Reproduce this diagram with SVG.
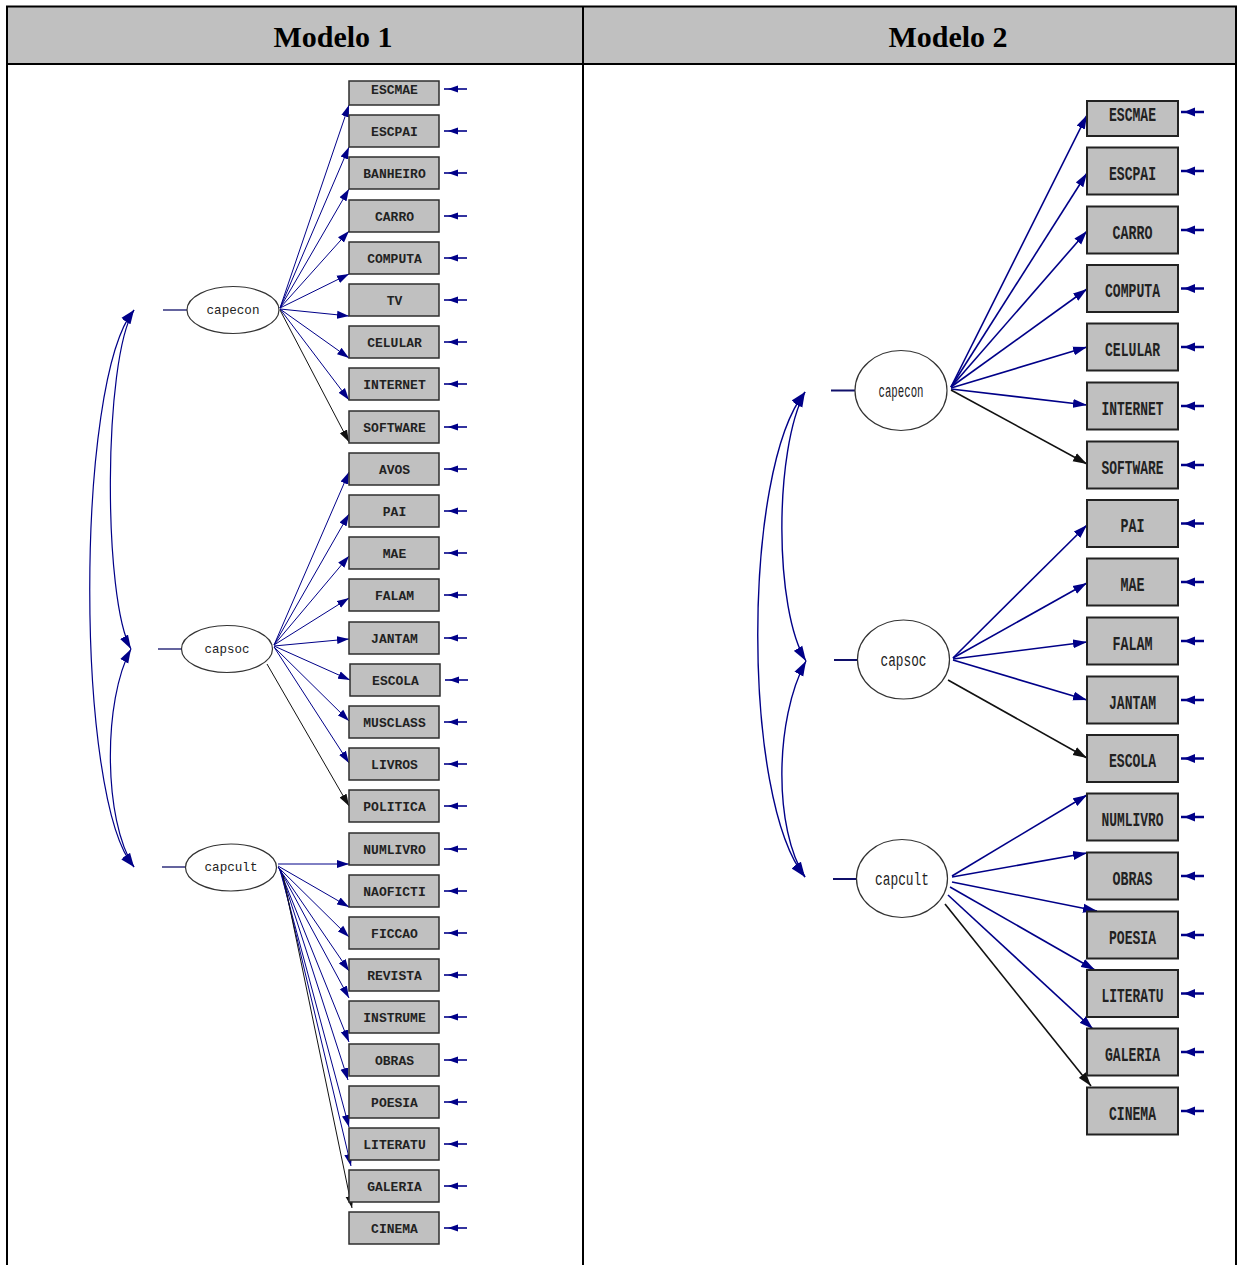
<svg xmlns="http://www.w3.org/2000/svg" xmlns:xlink="http://www.w3.org/1999/xlink" width="1238" height="1265" viewBox="0 0 1238 1265">
<style>
.hdr{font-family:"Liberation Serif","Times New Roman",serif;font-weight:bold;font-size:30px;fill:#000;text-anchor:middle}
.box1{fill:#c0c0c0;stroke:#2e2e2e;stroke-width:1.5}
.box2{fill:#c0c0c0;stroke:#222;stroke-width:2}
.t1{font-family:"Liberation Mono","Courier New",monospace;font-weight:bold;font-size:13px;fill:#222;text-anchor:middle}
.t2{font-family:"Liberation Mono","Courier New",monospace;font-weight:bold;font-size:20px;fill:#222;text-anchor:middle}
.lv{fill:#fff;stroke:#333;stroke-width:1.2}
.lt1{font-family:"Liberation Mono","Courier New",monospace;font-size:13px;fill:#222;text-anchor:middle}
.lt2{font-family:"Liberation Mono","Courier New",monospace;font-size:19px;fill:#222;text-anchor:middle}
.stub{stroke:#10106a;fill:none}
.b1{stroke:#000088;stroke-width:1;fill:none;marker-end:url(#a1b)}
.k1{stroke:#111;stroke-width:1;fill:none;marker-end:url(#a1k)}
.b2{stroke:#000088;stroke-width:1.6;fill:none;marker-end:url(#a2b)}
.k2{stroke:#111;stroke-width:1.6;fill:none;marker-end:url(#a2k)}
.cv1{stroke:#000088;stroke-width:1.2;fill:none;marker-start:url(#c1);marker-end:url(#c1)}
.cv2{stroke:#000088;stroke-width:1.4;fill:none;marker-start:url(#c2);marker-end:url(#c2)}
.tbl{stroke:#000;stroke-width:2;fill:none}
</style>
<defs>
<marker id="a1b" markerUnits="userSpaceOnUse" markerWidth="12" markerHeight="9" viewBox="0 0 12 9" refX="12" refY="4.5" orient="auto"><path d="M0,0.5 L12,4.5 L0,8.5 z" fill="#000088"/></marker>
<marker id="a1k" markerUnits="userSpaceOnUse" markerWidth="12" markerHeight="9" viewBox="0 0 12 9" refX="12" refY="4.5" orient="auto"><path d="M0,0.5 L12,4.5 L0,8.5 z" fill="#111"/></marker>
<marker id="a2b" markerUnits="userSpaceOnUse" markerWidth="14" markerHeight="10" viewBox="0 0 14 10" refX="14" refY="5" orient="auto"><path d="M0,0.5 L14,5 L0,9.5 z" fill="#000088"/></marker>
<marker id="a2k" markerUnits="userSpaceOnUse" markerWidth="14" markerHeight="10" viewBox="0 0 14 10" refX="14" refY="5" orient="auto"><path d="M0,0.5 L14,5 L0,9.5 z" fill="#111"/></marker>
<marker id="c1" markerUnits="userSpaceOnUse" markerWidth="14" markerHeight="10" viewBox="0 0 14 10" refX="14" refY="5" orient="auto-start-reverse"><path d="M0,0.5 L14,5 L0,9.5 z" fill="#000088"/></marker>
<marker id="c2" markerUnits="userSpaceOnUse" markerWidth="15" markerHeight="11" viewBox="0 0 15 11" refX="15" refY="5.5" orient="auto-start-reverse"><path d="M0,0.5 L15,5.5 L0,10.5 z" fill="#000088"/></marker>
<g id="e1"><line x1="4" y1="0" x2="27" y2="0" stroke="#000088" stroke-width="1.6"/><polygon points="8,0 18,-3.5 18,3.5" fill="#000088"/></g>
<g id="e2"><line x1="3" y1="0" x2="26" y2="0" stroke="#000088" stroke-width="2.5"/><polygon points="6,0 17,-4.5 17,4.5" fill="#000088"/></g>
</defs>
<rect x="0" y="0" width="1238" height="1265" fill="#fff"/>
<g id="table">
<rect x="7" y="6" width="1229" height="58" fill="#c0c0c0"/>
<line class="tbl" x1="6" y1="6.5" x2="1237" y2="6.5"/>
<line class="tbl" x1="6" y1="64" x2="1237" y2="64"/>
<line class="tbl" x1="7" y1="6" x2="7" y2="1265"/>
<line class="tbl" x1="583" y1="6" x2="583" y2="1265"/>
<line class="tbl" x1="1236" y1="6" x2="1236" y2="1265"/>
<text class="hdr" x="333" y="47">Modelo 1</text>
<text class="hdr" x="948" y="47">Modelo 2</text>
</g>
<g id="connectors">
<path class="cv1" d="M134,310 C75,380 75,800 134,867"/>
<path class="cv1" d="M134,310 C103,360 103,600 131,649"/>
<path class="cv1" d="M131,649 C103,700 103,820 134,867"/>
<path class="b1" d="M280,308 L349,105"/>
<path class="b1" d="M280,308 L349,147"/>
<path class="b1" d="M280,308 L349,189"/>
<path class="b1" d="M280,308 L349,231"/>
<path class="b1" d="M280,308 L349,274"/>
<path class="b1" d="M280,309 L349,316"/>
<path class="b1" d="M280,309 L349,358"/>
<path class="b1" d="M280,309 L349,400"/>
<path class="k1" d="M280,310 L349,442"/>
<path class="b1" d="M274,645 L349,472"/>
<path class="b1" d="M274,645 L349,514"/>
<path class="b1" d="M274,645 L349,556"/>
<path class="b1" d="M274,645 L349,598"/>
<path class="b1" d="M274,646 L349,639"/>
<path class="b1" d="M274,646 L350,680"/>
<path class="b1" d="M274,647 L349,721"/>
<path class="b1" d="M274,647 L349,763"/>
<path class="k1" d="M267,664 L349,806"/>
<path class="b1" d="M278,864 L349,864"/>
<path class="b1" d="M278,866 L349,907"/>
<path class="b1" d="M278,867 L349,937"/>
<path class="b1" d="M278,867 L349,971"/>
<path class="b1" d="M279,868 L349,998"/>
<path class="b1" d="M279,868 L349,1042"/>
<path class="b1" d="M280,869 L348,1080"/>
<path class="b1" d="M280,870 L349,1127"/>
<path class="b1" d="M281,871 L351,1166"/>
<path class="k1" d="M283,875 L352,1208"/>
<path class="cv2" d="M805,392 C742,470 742,800 805,877"/>
<path class="cv2" d="M805,392 C774,450 774,610 806,661"/>
<path class="cv2" d="M806,661 C774,720 774,830 805,877"/>
<path class="b2" d="M951,387 L1087,115"/>
<path class="b2" d="M951,387 L1087,173"/>
<path class="b2" d="M951,387 L1087,231"/>
<path class="b2" d="M951,387 L1087,289"/>
<path class="b2" d="M951,388 L1087,347"/>
<path class="b2" d="M951,389 L1087,405"/>
<path class="k2" d="M951,390 L1087,464"/>
<path class="b2" d="M953,658 L1087,525"/>
<path class="b2" d="M953,658 L1087,583"/>
<path class="b2" d="M953,659 L1087,642"/>
<path class="b2" d="M953,660 L1087,700"/>
<path class="k2" d="M948,680 L1087,758"/>
<path class="b2" d="M952,876 L1087,795"/>
<path class="b2" d="M952,877 L1087,853"/>
<path class="b2" d="M952,882 L1097,911"/>
<path class="b2" d="M950,887 L1095,970"/>
<path class="b2" d="M948,895 L1093,1029"/>
<path class="k2" d="M945,904 L1091,1086"/>
</g>
<g id="m1-capecon"><line class="stub" x1="163" y1="310" x2="187" y2="310" stroke-width="1.3"/><ellipse class="lv" cx="233" cy="310" rx="46" ry="23.5"/><text class="lt1" x="233" y="313.5" textLength="53" lengthAdjust="spacingAndGlyphs">capecon</text></g>
<g id="m1-capsoc"><line class="stub" x1="158" y1="649" x2="182" y2="649" stroke-width="1.3"/><ellipse class="lv" cx="227" cy="649" rx="45.5" ry="23.5"/><text class="lt1" x="227" y="652.5" textLength="45" lengthAdjust="spacingAndGlyphs">capsoc</text></g>
<g id="m1-capcult"><line class="stub" x1="162" y1="867" x2="186" y2="867" stroke-width="1.3"/><ellipse class="lv" cx="231" cy="867.5" rx="45.5" ry="23.5"/><text class="lt1" x="231" y="871" textLength="53" lengthAdjust="spacingAndGlyphs">capcult</text></g>
<g id="m1-ESCMAE"><rect class="box1" x="349" y="81" width="90" height="24"/><text class="t1" x="394.5" y="94">ESCMAE</text><use href="#e1" x="440" y="89"/></g>
<g id="m1-ESCPAI"><rect class="box1" x="349" y="115" width="90" height="32"/><text class="t1" x="394.5" y="136">ESCPAI</text><use href="#e1" x="440" y="131"/></g>
<g id="m1-BANHEIRO"><rect class="box1" x="349" y="157" width="90" height="32"/><text class="t1" x="394.5" y="178">BANHEIRO</text><use href="#e1" x="440" y="173"/></g>
<g id="m1-CARRO"><rect class="box1" x="349" y="200" width="90" height="32"/><text class="t1" x="394.5" y="221">CARRO</text><use href="#e1" x="440" y="216"/></g>
<g id="m1-COMPUTA"><rect class="box1" x="349" y="242" width="90" height="32"/><text class="t1" x="394.5" y="263">COMPUTA</text><use href="#e1" x="440" y="258"/></g>
<g id="m1-TV"><rect class="box1" x="349" y="284" width="90" height="32"/><text class="t1" x="394.5" y="305">TV</text><use href="#e1" x="440" y="300"/></g>
<g id="m1-CELULAR"><rect class="box1" x="349" y="326" width="90" height="32"/><text class="t1" x="394.5" y="347">CELULAR</text><use href="#e1" x="440" y="342"/></g>
<g id="m1-INTERNET"><rect class="box1" x="349" y="368" width="90" height="32"/><text class="t1" x="394.5" y="389">INTERNET</text><use href="#e1" x="440" y="384"/></g>
<g id="m1-SOFTWARE"><rect class="box1" x="349" y="411" width="90" height="32"/><text class="t1" x="394.5" y="432">SOFTWARE</text><use href="#e1" x="440" y="427"/></g>
<g id="m1-AVOS"><rect class="box1" x="349" y="453" width="90" height="32"/><text class="t1" x="394.5" y="474">AVOS</text><use href="#e1" x="440" y="469"/></g>
<g id="m1-PAI"><rect class="box1" x="349" y="495" width="90" height="32"/><text class="t1" x="394.5" y="516">PAI</text><use href="#e1" x="440" y="511"/></g>
<g id="m1-MAE"><rect class="box1" x="349" y="537" width="90" height="32"/><text class="t1" x="394.5" y="558">MAE</text><use href="#e1" x="440" y="553"/></g>
<g id="m1-FALAM"><rect class="box1" x="349" y="579" width="90" height="32"/><text class="t1" x="394.5" y="600">FALAM</text><use href="#e1" x="440" y="595"/></g>
<g id="m1-JANTAM"><rect class="box1" x="349" y="622" width="90" height="32"/><text class="t1" x="394.5" y="643">JANTAM</text><use href="#e1" x="440" y="638"/></g>
<g id="m1-ESCOLA"><rect class="box1" x="350" y="664" width="90" height="32"/><text class="t1" x="395.5" y="685">ESCOLA</text><use href="#e1" x="441" y="680"/></g>
<g id="m1-MUSCLASS"><rect class="box1" x="349" y="706" width="90" height="32"/><text class="t1" x="394.5" y="727">MUSCLASS</text><use href="#e1" x="440" y="722"/></g>
<g id="m1-LIVROS"><rect class="box1" x="349" y="748" width="90" height="32"/><text class="t1" x="394.5" y="769">LIVROS</text><use href="#e1" x="440" y="764"/></g>
<g id="m1-POLITICA"><rect class="box1" x="349" y="790" width="90" height="32"/><text class="t1" x="394.5" y="811">POLITICA</text><use href="#e1" x="440" y="806"/></g>
<g id="m1-NUMLIVRO"><rect class="box1" x="349" y="833" width="90" height="32"/><text class="t1" x="394.5" y="854">NUMLIVRO</text><use href="#e1" x="440" y="849"/></g>
<g id="m1-NAOFICTI"><rect class="box1" x="349" y="875" width="90" height="32"/><text class="t1" x="394.5" y="896">NAOFICTI</text><use href="#e1" x="440" y="891"/></g>
<g id="m1-FICCAO"><rect class="box1" x="349" y="917" width="90" height="32"/><text class="t1" x="394.5" y="938">FICCAO</text><use href="#e1" x="440" y="933"/></g>
<g id="m1-REVISTA"><rect class="box1" x="349" y="959" width="90" height="32"/><text class="t1" x="394.5" y="980">REVISTA</text><use href="#e1" x="440" y="975"/></g>
<g id="m1-INSTRUME"><rect class="box1" x="349" y="1001" width="90" height="32"/><text class="t1" x="394.5" y="1022">INSTRUME</text><use href="#e1" x="440" y="1017"/></g>
<g id="m1-OBRAS"><rect class="box1" x="349" y="1044" width="90" height="32"/><text class="t1" x="394.5" y="1065">OBRAS</text><use href="#e1" x="440" y="1060"/></g>
<g id="m1-POESIA"><rect class="box1" x="349" y="1086" width="90" height="32"/><text class="t1" x="394.5" y="1107">POESIA</text><use href="#e1" x="440" y="1102"/></g>
<g id="m1-LITERATU"><rect class="box1" x="349" y="1128" width="90" height="32"/><text class="t1" x="394.5" y="1149">LITERATU</text><use href="#e1" x="440" y="1144"/></g>
<g id="m1-GALERIA"><rect class="box1" x="349" y="1170" width="90" height="32"/><text class="t1" x="394.5" y="1191">GALERIA</text><use href="#e1" x="440" y="1186"/></g>
<g id="m1-CINEMA"><rect class="box1" x="349" y="1212" width="90" height="32"/><text class="t1" x="394.5" y="1233">CINEMA</text><use href="#e1" x="440" y="1228"/></g>
<g id="m2-capecon"><line class="stub" x1="831" y1="390.5" x2="855" y2="390.5" stroke-width="2"/><ellipse class="lv" cx="901" cy="390.5" rx="46" ry="40"/><text class="lt2" x="901" y="397" textLength="45" lengthAdjust="spacingAndGlyphs">capecon</text></g>
<g id="m2-capsoc"><line class="stub" x1="834" y1="660" x2="857" y2="660" stroke-width="2"/><ellipse class="lv" cx="903.5" cy="659.5" rx="46" ry="39.5"/><text class="lt2" x="903.5" y="666" textLength="46" lengthAdjust="spacingAndGlyphs">capsoc</text></g>
<g id="m2-capcult"><line class="stub" x1="833" y1="879" x2="856" y2="879" stroke-width="2"/><ellipse class="lv" cx="902" cy="878.5" rx="45.5" ry="39"/><text class="lt2" x="902" y="885" textLength="54" lengthAdjust="spacingAndGlyphs">capcult</text></g>
<g id="m2-ESCMAE"><rect class="box2" x="1087" y="101" width="91" height="35"/><text class="t2" x="1132.5" y="120.5" textLength="47" lengthAdjust="spacingAndGlyphs">ESCMAE</text><use href="#e2" x="1178" y="112"/></g>
<g id="m2-ESCPAI"><rect class="box2" x="1087" y="147.5" width="91" height="47"/><text class="t2" x="1132.5" y="179.5" textLength="47" lengthAdjust="spacingAndGlyphs">ESCPAI</text><use href="#e2" x="1178" y="171"/></g>
<g id="m2-CARRO"><rect class="box2" x="1087" y="206.5" width="91" height="47"/><text class="t2" x="1132.5" y="238.5" textLength="40" lengthAdjust="spacingAndGlyphs">CARRO</text><use href="#e2" x="1178" y="230"/></g>
<g id="m2-COMPUTA"><rect class="box2" x="1087" y="265" width="91" height="47"/><text class="t2" x="1132.5" y="297" textLength="55" lengthAdjust="spacingAndGlyphs">COMPUTA</text><use href="#e2" x="1178" y="288.5"/></g>
<g id="m2-CELULAR"><rect class="box2" x="1087" y="323.5" width="91" height="47"/><text class="t2" x="1132.5" y="355.5" textLength="55" lengthAdjust="spacingAndGlyphs">CELULAR</text><use href="#e2" x="1178" y="347"/></g>
<g id="m2-INTERNET"><rect class="box2" x="1087" y="382.5" width="91" height="47"/><text class="t2" x="1132.5" y="414.5" textLength="62" lengthAdjust="spacingAndGlyphs">INTERNET</text><use href="#e2" x="1178" y="406"/></g>
<g id="m2-SOFTWARE"><rect class="box2" x="1087" y="441.5" width="91" height="47"/><text class="t2" x="1132.5" y="473.5" textLength="62" lengthAdjust="spacingAndGlyphs">SOFTWARE</text><use href="#e2" x="1178" y="465"/></g>
<g id="m2-PAI"><rect class="box2" x="1087" y="500" width="91" height="47"/><text class="t2" x="1132.5" y="532" textLength="24" lengthAdjust="spacingAndGlyphs">PAI</text><use href="#e2" x="1178" y="523.5"/></g>
<g id="m2-MAE"><rect class="box2" x="1087" y="558.5" width="91" height="47"/><text class="t2" x="1132.5" y="590.5" textLength="24" lengthAdjust="spacingAndGlyphs">MAE</text><use href="#e2" x="1178" y="582"/></g>
<g id="m2-FALAM"><rect class="box2" x="1087" y="617.5" width="91" height="47"/><text class="t2" x="1132.5" y="649.5" textLength="40" lengthAdjust="spacingAndGlyphs">FALAM</text><use href="#e2" x="1178" y="641"/></g>
<g id="m2-JANTAM"><rect class="box2" x="1087" y="676.5" width="91" height="47"/><text class="t2" x="1132.5" y="708.5" textLength="47" lengthAdjust="spacingAndGlyphs">JANTAM</text><use href="#e2" x="1178" y="700"/></g>
<g id="m2-ESCOLA"><rect class="box2" x="1087" y="735" width="91" height="47"/><text class="t2" x="1132.5" y="767" textLength="47" lengthAdjust="spacingAndGlyphs">ESCOLA</text><use href="#e2" x="1178" y="758.5"/></g>
<g id="m2-NUMLIVRO"><rect class="box2" x="1087" y="793.5" width="91" height="47"/><text class="t2" x="1132.5" y="825.5" textLength="62" lengthAdjust="spacingAndGlyphs">NUMLIVRO</text><use href="#e2" x="1178" y="817"/></g>
<g id="m2-OBRAS"><rect class="box2" x="1087" y="852.5" width="91" height="47"/><text class="t2" x="1132.5" y="884.5" textLength="40" lengthAdjust="spacingAndGlyphs">OBRAS</text><use href="#e2" x="1178" y="876"/></g>
<g id="m2-POESIA"><rect class="box2" x="1087" y="911.5" width="91" height="47"/><text class="t2" x="1132.5" y="943.5" textLength="47" lengthAdjust="spacingAndGlyphs">POESIA</text><use href="#e2" x="1178" y="935"/></g>
<g id="m2-LITERATU"><rect class="box2" x="1087" y="970" width="91" height="47"/><text class="t2" x="1132.5" y="1002" textLength="62" lengthAdjust="spacingAndGlyphs">LITERATU</text><use href="#e2" x="1178" y="993.5"/></g>
<g id="m2-GALERIA"><rect class="box2" x="1087" y="1028.5" width="91" height="47"/><text class="t2" x="1132.5" y="1060.5" textLength="55" lengthAdjust="spacingAndGlyphs">GALERIA</text><use href="#e2" x="1178" y="1052"/></g>
<g id="m2-CINEMA"><rect class="box2" x="1087" y="1087.5" width="91" height="47"/><text class="t2" x="1132.5" y="1119.5" textLength="47" lengthAdjust="spacingAndGlyphs">CINEMA</text><use href="#e2" x="1178" y="1111"/></g>
</svg>
